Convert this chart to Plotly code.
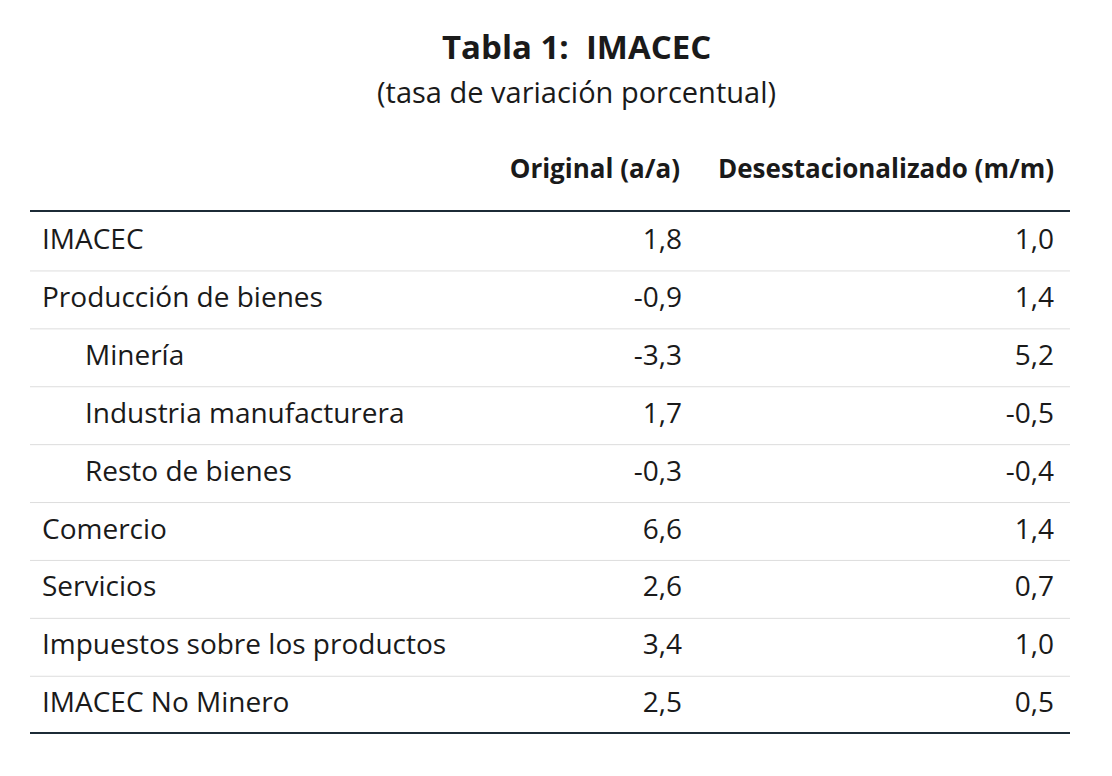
import plotly.graph_objects as go

labels = ["IMACEC", "Producción de bienes", "Minería", "Industria manufacturera",
          "Resto de bienes", "Comercio", "Servicios", "Impuestos sobre los productos",
          "IMACEC No Minero"]
indent = [False, False, True, True, True, False, False, False, False]
original = ["1,8", "-0,9", "-3,3", "1,7", "-0,3", "6,6", "2,6", "3,4", "2,5"]
desest = ["1,0", "1,4", "5,2", "-0,5", "-0,4", "1,4", "0,7", "1,0", "0,5"]
headers = ["Original (a/a)", "Desestacionalizado (m/m)"]

FONT = "Open Sans"
DX, DY = -8, -7
top, step = 241 + DY, 57.9
ys = [top + i * step for i in range(len(labels))]
txtc = "#1a1a1a"

fig = go.Figure()
fig.add_trace(go.Scatter(x=[(85 if ind else 42) + DX for ind in indent], y=ys, text=labels,
                         mode="text", textposition="middle right",
                         textfont=dict(family=FONT, size=28, color=txtc), hoverinfo="skip"))
fig.add_trace(go.Scatter(x=[682 + DX] * len(ys), y=ys, text=original, mode="text",
                         textposition="middle left",
                         textfont=dict(family=FONT, size=28, color=txtc), hoverinfo="skip"))
fig.add_trace(go.Scatter(x=[1054 + DX] * len(ys), y=ys, text=desest, mode="text",
                         textposition="middle left",
                         textfont=dict(family=FONT, size=28, color=txtc), hoverinfo="skip"))
fig.add_trace(go.Scatter(x=[680 + DX, 1054 + DX], y=[170 + DY, 170 + DY],
                         text=["<b>%s</b>" % h for h in headers], mode="text",
                         textposition="middle left",
                         textfont=dict(family=FONT, size=26, color=txtc), hoverinfo="skip"))

shapes = []
for i in range(1, len(labels)):
    y = top + (i - 0.5) * step
    shapes.append(dict(type="line", x0=30 + DX, x1=1070 + DX, y0=y, y1=y,
                       line=dict(color="#dddddd", width=1)))
for y in (210, 732):
    shapes.append(dict(type="line", x0=30 + DX, x1=1070 + DX, y0=y + DY, y1=y + DY,
                       line=dict(color="#1c2b36", width=2)))

fig.update_layout(
    width=1112, height=776, margin=dict(l=0, r=0, t=0, b=0),
    paper_bgcolor="white", plot_bgcolor="white", showlegend=False,
    xaxis=dict(range=[0, 1112], visible=False, fixedrange=True),
    yaxis=dict(range=[776, 0], visible=False, fixedrange=True),
    shapes=shapes,
    annotations=[
        dict(x=576 + DX, y=45 + DY, xref="x", yref="y", text="<b>Tabla 1:  IMACEC</b>", showarrow=False,
             font=dict(family=FONT, size=33, color=txtc)),
        dict(x=576 + DX, y=90 + DY, xref="x", yref="y", text="(tasa de variación porcentual)", showarrow=False,
             font=dict(family=FONT, size=29, color=txtc)),
    ],
)
fig.write_html("out.html")
